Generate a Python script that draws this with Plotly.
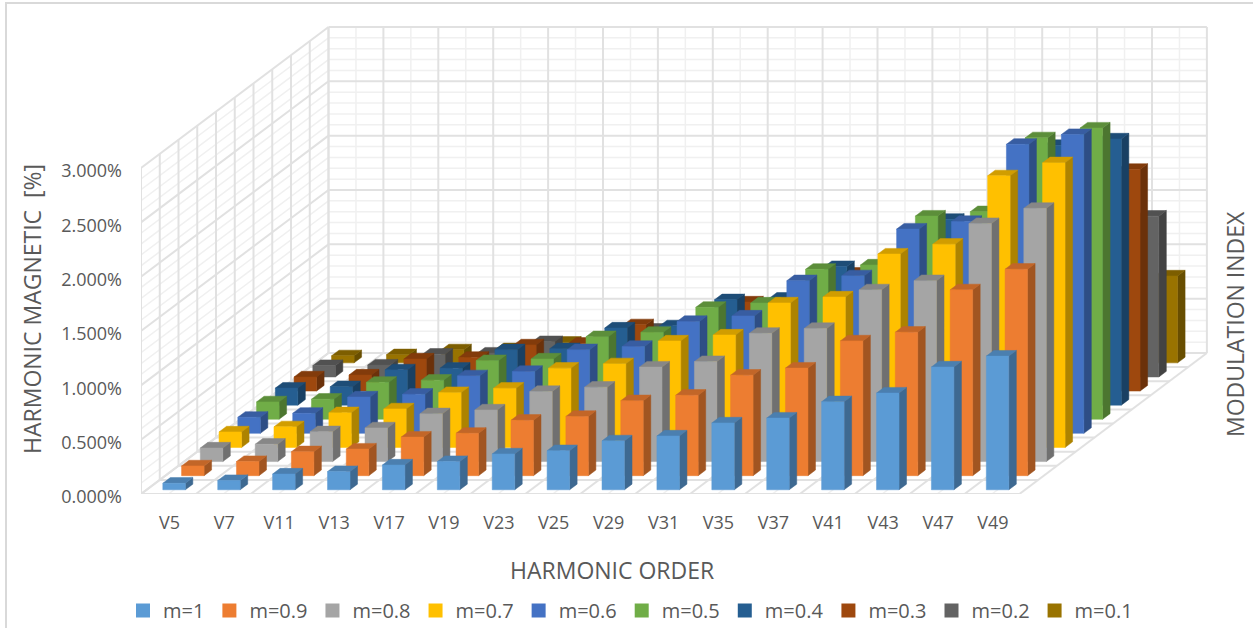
import plotly.graph_objects as go

harmonics = ["V5","V7","V11","V13","V17","V19","V23","V25","V29","V31","V35","V37","V41","V43","V47","V49"]
series_names = ["m=1","m=0.9","m=0.8","m=0.7","m=0.6","m=0.5","m=0.4","m=0.3","m=0.2","m=0.1"]
value_ticks = [0, .5, 1, 1.5, 2, 2.5, 3]

m_10 = [.06,.085,.145,.167,.228,.26,.33,.36,.45,.495,.615,.66,.81,.89,1.13,1.23]
m_09 = [.09,.13,.22,.245,.355,.39,.51,.545,.69,.74,.925,.99,1.24,1.32,1.71,1.90]
m_08 = [.125,.16,.275,.31,.44,.475,.645,.685,.87,.92,1.18,1.225,1.58,1.665,2.19,2.33]
m_07 = [.143,.19,.32,.355,.505,.545,.73,.77,.98,1.035,1.33,1.385,1.78,1.87,2.5,2.62]
m_06 = [.148,.185,.335,.36,.53,.57,.77,.80,1.03,1.08,1.405,1.45,1.88,1.95,2.66,2.75]
m_05 = [.16,.185,.34,.36,.54,.555,.76,.80,1.03,1.07,1.38,1.42,1.87,1.91,2.59,2.68]
m_04 = [.157,.17,.325,.34,.51,.52,.71,.73,.97,.985,1.275,1.30,1.71,1.78,2.39,2.45]
m_03 = [.13,.148,.295,.31,.425,.44,.61,.62,.82,.84,1.085,1.11,1.45,1.52,2.0,2.04]
m_02 = [.105,.11,.21,.22,.325,.33,.44,.46,.58,.60,.75,.78,1.0,1.04,1.37,1.48]
m_01 = [.065,.075,.12,.13,.19,.20,.26,.27,.34,.35,.44,.45,.58,.60,.75,.80]
all_series = [m_10,m_09,m_08,m_07,m_06,m_05,m_04,m_03,m_02,m_01]

colors = ["#5B9BD5","#ED7D31","#A5A5A5","#FFC000","#4472C4","#70AD47","#255E91","#9E480E","#636363","#997300"]

# plot frame in pixels
L, R, T, B = 141, 40, 20, 134
W, H = 1253, 628
PX_PER_CAT = 54.9
PX_PER_PCT = 108.67
DX = 18.75 / PX_PER_CAT     # oblique depth shift per series, in category units
DY = 14.1 / PX_PER_PCT      # oblique depth shift per series, in percent units
HALF_W = 0.205
D_FRONT, D_BACK = 0.3, 0.7
n_cat, n_ser, v_max = len(harmonics), len(series_names), 3.0


def shade(hex_color, f):
    r, g, b = (int(hex_color[i:i+2], 16) for i in (1, 3, 5))
    return f"rgb({round(r*f)},{round(g*f)},{round(b*f)})"


def px(cat, depth):
    return cat + DX * depth


def py(val, depth):
    return val + DY * depth


def grid_trace(segments, color, width):
    xs, ys = [], []
    for (c0, v0, d0), (c1, v1, d1) in segments:
        xs += [px(c0, d0), px(c1, d1), None]
        ys += [py(v0, d0), py(v1, d1), None]
    return go.Scatter(x=xs, y=ys, mode="lines", line=dict(color=color, width=width),
                      hoverinfo="skip", showlegend=False)


c0, c1 = -0.5, n_cat - 0.5
minor, major = [], []
# value lines on the two walls
for k in range(31):
    v = k / 10
    seg = [((c0, v, 0), (c0, v, n_ser)), ((c0, v, n_ser), (c1, v, n_ser))]
    (major if k % 5 == 0 else minor).extend(seg)
# category lines on back wall and floor
for k in range(2 * n_cat + 1):
    c = c0 + k / 2
    seg = [((c, 0, n_ser), (c, v_max, n_ser)), ((c, 0, 0), (c, 0, n_ser))]
    (major if k % 2 == 0 else minor).extend(seg)
# series lines on left wall and floor
for s in range(n_ser + 1):
    major.append(((c0, 0, s), (c0, v_max, s)))
    major.append(((c0, 0, s), (c1, 0, s)))

traces = [grid_trace(minor, "#f0f0f0", 1.5), grid_trace(major, "#e1e1e1", 2)]

# bars: back row first
for s in reversed(range(n_ser)):
    vals = all_series[s]
    fx, fy, sx, sy, tx, ty = [], [], [], [], [], []
    d0, d1 = s + D_FRONT, s + D_BACK
    for i, v in enumerate(vals):
        a, b = i - HALF_W, i + HALF_W
        fx += [px(a, d0), px(b, d0), px(b, d0), px(a, d0), px(a, d0), None]
        fy += [py(0, d0), py(0, d0), py(v, d0), py(v, d0), py(0, d0), None]
        sx += [px(b, d0), px(b, d1), px(b, d1), px(b, d0), px(b, d0), None]
        sy += [py(0, d0), py(0, d1), py(v, d1), py(v, d0), py(0, d0), None]
        tx += [px(a, d0), px(b, d0), px(b, d1), px(a, d1), px(a, d0), None]
        ty += [py(v, d0), py(v, d0), py(v, d1), py(v, d1), py(v, d0), None]
    base = colors[s]
    for xs, ys, col in ((sx, sy, shade(base, 0.68)), (tx, ty, shade(base, 0.82)), (fx, fy, base)):
        traces.append(go.Scatter(x=xs, y=ys, mode="lines", fill="toself", fillcolor=col,
                                 line=dict(color=col, width=0.5), hoverinfo="skip",
                                 showlegend=False))

# legend keys
for name, col in zip(series_names, colors):
    traces.append(go.Scatter(x=[None], y=[None], mode="markers", name=name,
                             marker=dict(symbol="square", size=14, color=col)))

fig = go.Figure(traces)
text_col = "#595959"
font = "Open Sans"
plot_w, plot_h = W - L - R, H - T - B


def title_note(text, x_px, y_px, angle=0):
    return dict(text=text, textangle=angle, showarrow=False, xref="paper", yref="paper",
                x=(x_px - L) / plot_w, y=(H - B - y_px) / plot_h,
                xanchor="center", yanchor="middle", font=dict(size=23, color=text_col))


fig.update_layout(
    width=W, height=H, autosize=False,
    margin=dict(l=L, r=R, t=T, b=B, autoexpand=False),
    paper_bgcolor="white", plot_bgcolor="white",
    font=dict(family=font, size=18, color=text_col),
    xaxis=dict(range=[c0, c0 + plot_w / PX_PER_CAT], tickvals=list(range(n_cat)), ticktext=harmonics,
               showgrid=False, zeroline=False, showline=False, ticks="", ticklabelstandoff=16,
               ticklabelshift=1, tickfont=dict(size=18), automargin=False),
    yaxis=dict(range=[0, plot_h / PX_PER_PCT], tickvals=value_ticks,
               ticktext=[f"{v:.3f}%" for v in value_ticks],
               showgrid=False, zeroline=False, showline=False,
               ticks="", ticklabelstandoff=18, ticklabelshift=3, automargin=False),
    legend=dict(orientation="h", x=(123 - L) / plot_w, xanchor="left", y=-(591 - (H - B)) / plot_h,
                yanchor="top", font=dict(size=20),
                bgcolor="rgba(0,0,0,0)", itemclick=False, itemdoubleclick=False),
    shapes=[dict(type="rect", xref="paper", yref="paper",
                 x0=(6 - L) / plot_w, x1=(W + 10 - L) / plot_w,
                 y0=-(H + 10 - (H - B)) / plot_h, y1=(H - B - 3) / plot_h,
                 line=dict(color="#d9d9d9", width=2), layer="below")],
    annotations=[title_note("HARMONIC ORDER", 612, 570),
                 title_note("HARMONIC MAGNETIC  [%]", 32, 309, -90),
                 title_note("MODULATION INDEX", 1235, 324, -90)],
)
fig.write_html("out.html", config={"displayModeBar": False},
               post_script="document.body.style.margin='0';")
